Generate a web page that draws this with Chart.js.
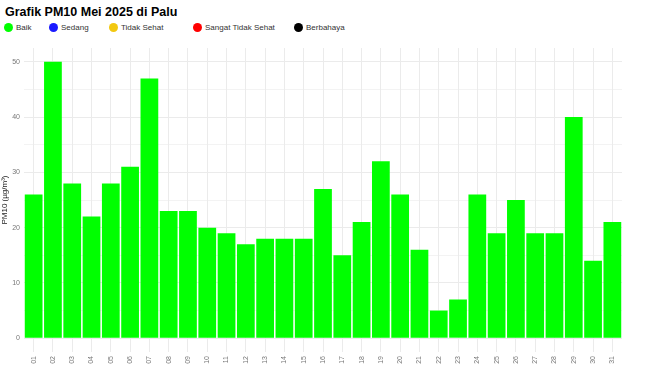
<!DOCTYPE html>
<html>
<head>
<meta charset="utf-8">
<script src="https://cdn.jsdelivr.net/npm/chart.js@4"></script>
<style>
  html, body { margin: 0; padding: 0; background: #fff; }
  body { width: 653px; height: 379px; position: relative; overflow: hidden; font-family: "Liberation Sans", Arial, sans-serif; }
  #title { position: absolute; left: 5px; top: 5px; font-size: 12.5px; font-weight: bold; color: #000; }
  .leg { position: absolute; top: 23px; font-size: 8px; color: #333; display: flex; align-items: center; }
  .leg span.dot { width: 9px; height: 9px; border-radius: 50%; display: inline-block; margin-right: 3px; }
  #wrap { position: absolute; left: 0; top: 0; width: 653px; height: 379px; }
</style>
</head>
<body>
<div id="title">Grafik PM10 Mei 2025 di Palu</div>
<div id="legend"></div>
<div id="wrap"><canvas id="chart" width="653" height="379"></canvas></div>
<script>
  // hari (tanggal Mei 2025)
  const days = ["01","02","03","04","05","06","07","08","09","10","11","12","13","14","15","16",
    "17","18","19","20","21","22","23","24","25","26","27","28","29","30","31"];
  const pm10 = [26,50,28,22,28,31,47,23,23,20,19,17,18,18,18,27,15,21,32,26,16,5,7,26,19,25,19,19,40,14,21];

  const kategori = ["Baik","Sedang","Tidak Sehat","Sangat Tidak Sehat","Berbahaya"];
  const warnaKategori = ["#00ff00","#1a1aff","#f2c811","#ff0000","#000000"];
  const legendX = [4, 49, 109, 193, 294];

  // legenda manual
  const legendEl = document.getElementById("legend");
  kategori.forEach((k, i) => {
    const d = document.createElement("div");
    d.className = "leg";
    d.style.left = legendX[i] + "px";
    d.innerHTML = `<span class="dot" style="background:${warnaKategori[i]}"></span>${k}`;
    legendEl.appendChild(d);
  });

  const tickFont = { family: "Liberation Sans, Arial, sans-serif", size: 7 };

  new Chart(document.getElementById("chart").getContext("2d"), {
    type: "bar",
    data: {
      labels: days,
      datasets: [{
        data: pm10,
        backgroundColor: warnaKategori[0],
        barPercentage: 0.92,
        categoryPercentage: 1.0,
      }],
    },
    options: {
      responsive: false,
      animation: false,
      layout: { padding: { top: 48, right: 31, left: 0, bottom: 0 } },
      plugins: { legend: { display: false }, tooltip: { enabled: false } },
      scales: {
        x: {
          grid: { color: "#ebebeb", lineWidth: 1, offset: false, drawTicks: false },
          border: { display: false },
          ticks: { font: tickFont, color: "#777", maxRotation: 90, minRotation: 90, padding: 4, autoSkip: false },
          afterFit: (s) => { s.height = 27; },
        },
        y: {
          min: -2.5,
          max: 52.5,
          afterBuildTicks: (s) => {
            s.ticks = [0,5,10,15,20,25,30,35,40,45,50].map((v) => ({ value: v }));
          },
          grid: {
            drawTicks: false,
            color: "#ebebeb",
            lineWidth: (c) => (c.tick && c.tick.value % 10 === 0 ? 1 : 0.6),
          },
          border: { display: false },
          ticks: {
            font: tickFont,
            color: "#777",
            padding: 4,
            callback: (v) => (v % 10 === 0 ? v : ""),
          },
          title: {
            display: true,
            text: "PM10 (µg/m³)",
            font: { family: "Liberation Sans, Arial, sans-serif", size: 8 },
            color: "#222",
            padding: { top: 0, bottom: 0 },
          },
          afterFit: (s) => { s.width = 24; },
        },
      },
    },
  });
</script>
</body>
</html>
